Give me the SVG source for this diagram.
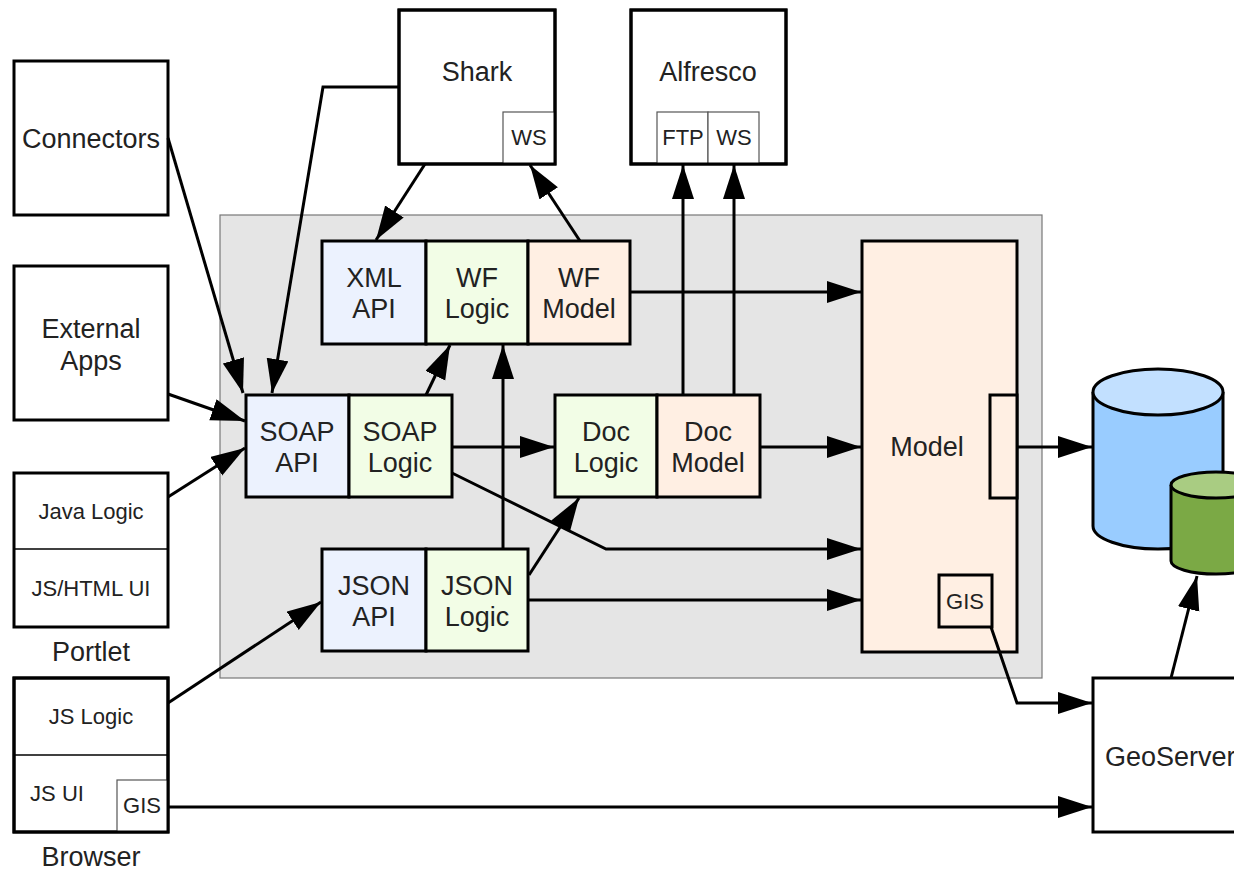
<svg xmlns="http://www.w3.org/2000/svg" width="1234" height="870" viewBox="0 0 1234 870">
<defs>
<style>
.box{fill:#fff;stroke:#000;stroke-width:3}
.api{fill:#ecf2fe;stroke:#000;stroke-width:3}
.logic{fill:#f2fde6;stroke:#000;stroke-width:3}
.model{fill:#ffefe3;stroke:#000;stroke-width:3}
.thin{fill:#fff;stroke:#555;stroke-width:1.2}
.div{stroke:#000;stroke-width:1.5}
.t{font-family:"Liberation Sans",Arial,sans-serif;font-size:27px;fill:#222;text-anchor:middle}
.s{font-family:"Liberation Sans",Arial,sans-serif;font-size:22px;fill:#222;text-anchor:middle}
.c{fill:none;stroke:#000;stroke-width:3;marker-end:url(#ah)}
.cn{fill:none;stroke:#000;stroke-width:3}
</style>
<marker id="ah" markerUnits="userSpaceOnUse" markerWidth="36" markerHeight="24" refX="34" refY="11" orient="auto">
<path d="M0,0 L34,11 L0,22 z" fill="#000"/>
</marker>
</defs>
<rect width="1234" height="870" fill="#fff"/>

<g id="container"><rect x="220" y="215" width="822" height="463" fill="#e5e5e5" stroke="#777" stroke-width="1.2"/></g>

<g id="connectors-node"><rect class="box" x="14" y="61" width="154" height="154"/><text class="t" x="91" y="148">Connectors</text></g>
<g id="external-apps"><rect class="box" x="14" y="266" width="154" height="154"/><text class="t" x="91" y="338">External</text><text class="t" x="91" y="370">Apps</text></g>
<g id="portlet"><rect class="box" x="14" y="473" width="154" height="154"/><line class="div" x1="14" y1="549" x2="168" y2="549"/><text class="s" x="91" y="519">Java Logic</text><text class="s" x="91" y="596">JS/HTML UI</text><text class="t" x="91" y="661">Portlet</text></g>
<g id="browser"><rect class="box" x="14" y="678" width="154" height="154"/><line class="div" x1="14" y1="755" x2="168" y2="755"/><rect class="thin" x="117" y="780" width="51" height="52"/><rect x="14" y="678" width="154" height="154" fill="none" stroke="#000" stroke-width="3"/><text class="s" x="91" y="724">JS Logic</text><text class="s" x="57" y="801">JS UI</text><text class="s" x="142" y="813">GIS</text><text class="t" x="91" y="866">Browser</text></g>

<g id="shark"><rect class="box" x="399" y="10" width="156" height="154"/><rect class="thin" x="503" y="112" width="52" height="52"/><rect x="399" y="10" width="156" height="154" fill="none" stroke="#000" stroke-width="3"/><text class="t" x="477" y="81">Shark</text><text class="s" x="529" y="145">WS</text></g>
<g id="alfresco"><rect class="box" x="631" y="10" width="155" height="154"/><rect class="thin" x="657" y="112" width="51" height="52"/><rect class="thin" x="708" y="112" width="51" height="52"/><rect x="631" y="10" width="155" height="154" fill="none" stroke="#000" stroke-width="3"/><text class="t" x="708" y="81">Alfresco</text><text class="s" x="683" y="145">FTP</text><text class="s" x="734" y="145">WS</text></g>

<g id="xml-api"><rect class="api" x="322" y="241" width="104" height="103"/><text class="t" x="374" y="287">XML</text><text class="t" x="374" y="318">API</text></g>
<g id="wf-logic"><rect class="logic" x="426" y="241" width="102" height="103"/><text class="t" x="477" y="287">WF</text><text class="t" x="477" y="318">Logic</text></g>
<g id="wf-model"><rect class="model" x="528" y="241" width="102" height="103"/><text class="t" x="579" y="287">WF</text><text class="t" x="579" y="318">Model</text></g>

<g id="soap-api"><rect class="api" x="246" y="395" width="103" height="102"/><text class="t" x="297" y="441">SOAP</text><text class="t" x="297" y="472">API</text></g>
<g id="soap-logic"><rect class="logic" x="349" y="395" width="103" height="102"/><text class="t" x="400" y="441">SOAP</text><text class="t" x="400" y="472">Logic</text></g>
<g id="doc-logic"><rect class="logic" x="555" y="395" width="102" height="102"/><text class="t" x="606" y="441">Doc</text><text class="t" x="606" y="472">Logic</text></g>
<g id="doc-model"><rect class="model" x="657" y="395" width="103" height="102"/><text class="t" x="708" y="441">Doc</text><text class="t" x="708" y="472">Model</text></g>

<g id="json-api"><rect class="api" x="322" y="549" width="104" height="102"/><text class="t" x="374" y="595">JSON</text><text class="t" x="374" y="626">API</text></g>
<g id="json-logic"><rect class="logic" x="426" y="549" width="102" height="102"/><text class="t" x="477" y="595">JSON</text><text class="t" x="477" y="626">Logic</text></g>

<g id="model"><rect class="model" x="862" y="241" width="155" height="411"/><rect class="model" x="990" y="395" width="27" height="103"/><rect class="model" x="939" y="575" width="53" height="52"/><text class="t" x="927" y="456">Model</text><text class="s" x="965" y="609">GIS</text></g>

<g id="db-main"><path d="M1093,392 L1093,526 A65,23 0 0 0 1223,526 L1223,392" fill="#99ccff" stroke="#000" stroke-width="3"/><ellipse cx="1158" cy="392" rx="65" ry="23" fill="#c2e0ff" stroke="#000" stroke-width="3"/></g>
<g id="db-gis"><path d="M1171,485 L1171,561 A45,13 0 0 0 1261,561 L1261,485" fill="#7ba945" stroke="#000" stroke-width="3"/><ellipse cx="1216" cy="485" rx="45" ry="13" fill="#a9cc82" stroke="#000" stroke-width="3"/></g>

<g id="geoserver"><rect class="box" x="1093" y="678" width="160" height="154"/><text class="t" x="1105" y="766" text-anchor="start" style="text-anchor:start">GeoServer</text></g>

<g id="connectors">
<path class="c" d="M168,138 L243,393"/>
<path class="c" d="M399,87 L323,87 L272,393"/>
<path class="c" d="M168,394 L245,421"/>
<path class="c" d="M168,497 L245,448"/>
<path class="c" d="M425,164 L376,240"/>
<path class="c" d="M580,241 L530,165"/>
<path class="c" d="M630,292 L861,292"/>
<path class="c" d="M683,395 L683,165"/>
<path class="c" d="M734,395 L734,165"/>
<path class="c" d="M426,395 L450,345"/>
<path class="c" d="M503,549 L503,345"/>
<path class="c" d="M452,447 L554,447"/>
<path class="c" d="M452,473 L606,549 L861,549"/>
<path class="c" d="M529,575 L579,498"/>
<path class="c" d="M528,600 L861,600"/>
<path class="c" d="M760,447 L861,447"/>
<path class="c" d="M1017,447 L1092,447"/>
<path class="c" d="M168,703 L321,602"/>
<path class="c" d="M991,627 L1017,703 L1092,703"/>
<path class="c" d="M168,807 L1092,807"/>
<path class="c" d="M1171,678 L1197,576"/>
</g>
</svg>
